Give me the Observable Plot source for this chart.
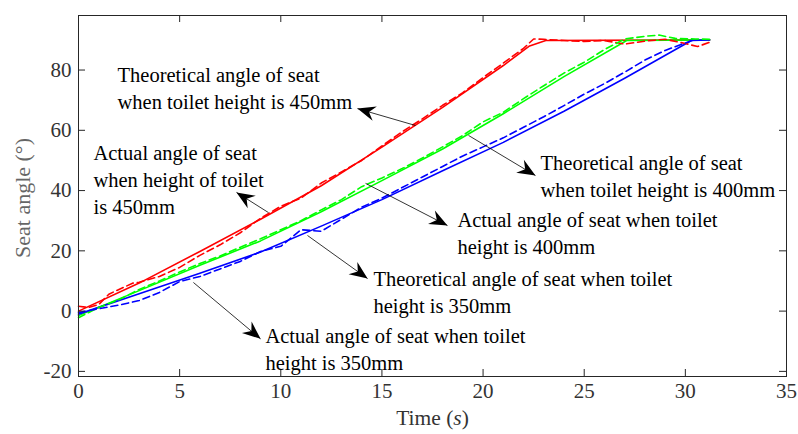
<!DOCTYPE html>
<html>
<head>
<meta charset="utf-8">
<script src="https://cdn.jsdelivr.net/npm/d3@7"></script>
<script src="https://cdn.jsdelivr.net/npm/@observablehq/plot@0.6"></script>
<style>
  html, body { margin: 0; padding: 0; background: white; overflow: hidden; }
</style>
</head>
<body>
<div id="chart"></div>
<script>
// ---- data ----
const xTicks = [0, 5, 10, 15, 20, 25, 30, 35];
const yTicks = [-20, 0, 20, 40, 60, 80];

// theoretical seat angle (solid)
const theoT450 = [0, 3, 6, 9, 12, 15, 18, 21, 22.3, 23.1, 31.2];
const theoA450 = [0, 9.3, 19.8, 30.5, 41.6, 54.4, 67.6, 81.5, 88, 89.8, 90];
const theoT400 = [0, 3, 6, 9, 12, 15, 18, 21, 24, 27.1, 31.2];
const theoA400 = [-1.5, 6.8, 15.2, 23.3, 33.0, 43.3, 53.8, 65.5, 77.8, 89.8, 90];
const theoT350 = [0, 3, 6, 9, 12, 15, 18, 21, 24, 27, 30.3, 31.2];
const theoA350 = [-1, 5.8, 12.6, 19.6, 28.2, 37.0, 46.6, 56.0, 66.3, 77.3, 89.8, 90];

// actual seat angle (dashed)
const actT450 = [0, 0.5, 1, 1.5, 2, 2.7, 3, 4, 5, 6, 7, 8, 9, 10, 11, 12, 13, 14, 15, 16, 17, 18, 19, 20, 21, 22, 22.5, 23, 24, 25, 26, 27, 28, 29, 30, 30.6, 31.2];
const actA450 = [1.6, 1.2, 2.2, 5.6, 7.2, 9.3, 9.6, 11.5, 14.5, 18.5, 22.0, 26.0, 30.8, 34.8, 37.5, 42.5, 46.2, 50.0, 54.8, 59.5, 63.8, 68.3, 72.5, 77.5, 82.3, 87.2, 90.3, 90.2, 89.8, 89.5, 89.8, 88.6, 89.6, 90.2, 88.8, 87.8, 89.2];
const actT400 = [0, 1, 2, 3, 4, 5, 6, 7, 8, 9, 10, 11, 12, 13, 14, 15, 16, 17, 18, 19, 20, 21, 22, 23, 24, 25, 26, 27, 28, 28.7, 29.5, 30.5, 31.2];
const actA400 = [-2.2, 1.2, 3.8, 7.2, 10.0, 13.0, 15.8, 18.3, 21.2, 24.0, 27.0, 30.0, 33.6, 37.0, 41.3, 44.2, 47.3, 50.8, 54.5, 58.3, 62.8, 66.0, 70.5, 74.8, 79.0, 82.6, 86.8, 90.3, 91.2, 91.6, 90.5, 90.3, 90.2];
const actT350 = [0, 1, 2, 3, 4, 5, 6, 7, 8, 9, 10, 11, 12, 13, 14, 15, 16, 17, 18, 19, 20, 21, 22, 23, 24, 25, 26, 27, 28, 29, 30, 30.5];
const actA350 = [-0.5, 0.8, 2.0, 3.5, 6.2, 9.8, 11.5, 14.0, 16.5, 19.8, 21.5, 27.0, 26.5, 30.5, 34.5, 37.5, 41.0, 44.5, 48.0, 51.5, 54.5, 57.5, 61.0, 64.5, 68.2, 72.0, 75.5, 79.3, 83.3, 86.5, 89.0, 90.2];

const seriesColors = {"450": "#ff0000", "400": "#00ff00", "350": "#0000ff"};

// annotation labels (x, y of first line, text)
const noteX = [1.93, 0.74, 22.84, 18.73, 14.58, 9.24];
const noteY = [79.9, 54.0, 50.6, 31.7, 12.2, -6.7];
const noteText = [
  "Theoretical angle of seat\nwhen toilet height is 450mm",
  "Actual angle of seat\nwhen height of toilet\nis 450mm",
  "Theoretical angle of seat\nwhen toilet height is 400mm",
  "Actual angle of seat when toilet\nheight is 400mm",
  "Theoretical angle of seat when toilet\nheight is 350mm",
  "Actual angle of seat when toilet\nheight is 350mm"
];
// annotation arrows (tail -> tip)
const arrowX1 = [16.66, 9.39, 19.28, 14.19, 11.32, 5.68];
const arrowY1 = [61.6, 32.7, 58.3, 42.4, 25.1, 9.5];
const arrowX2 = [13.79, 7.81, 22.59, 18.24, 14.29, 9.0];
const arrowY2 = [67.2, 39.4, 45.0, 28.4, 10.8, -9.2];

// ---- build tables ----
const toRows = (xs, ys, key) => xs.map((x, i) => ({x, y: ys[i], key}));
const theo = [
  ...toRows(theoT450, theoA450, "450"),
  ...toRows(theoT400, theoA400, "400"),
  ...toRows(theoT350, theoA350, "350")
];
const act = [
  ...toRows(actT450, actA450, "450"),
  ...toRows(actT400, actA400, "400"),
  ...toRows(actT350, actA350, "350")
];
const notes = noteText.map((t, i) => ({x: noteX[i], y: noteY[i], t}));
const arrows = arrowX1.map((x1, i) => ({x1, y1: arrowY1[i], x2: arrowX2[i], y2: arrowY2[i]}));

const font = "'Liberation Serif', 'DejaVu Serif', serif";
const W = 798, H = 434, mL = 78, mR = 12, mT = 15, mB = 58;
const fw = W - mL - mR, fh = H - mT - mB, tk = 7;

function arrowHeads(index, scales, values, dims, ctx, next) {
  const g = next(index, scales, values, dims, ctx);
  const {x1, y1, x2, y2} = values;
  const ns = "http://www.w3.org/2000/svg";
  for (const i of index) {
    const a = Math.atan2(y2[i] - y1[i], x2[i] - x1[i]);
    const c = Math.cos(a), s = Math.sin(a);
    const L = 18, Wd = 7.5, N = 12;
    const pts = [[0, 0], [-L, Wd], [-N, 0], [-L, -Wd]]
      .map(([u, v]) => [(x2[i] + u * c - v * s).toFixed(2), (y2[i] + u * s + v * c).toFixed(2)]);
    const p = document.createElementNS(ns, "path");
    p.setAttribute("d", "M" + pts.map(q => q.join(",")).join("L") + "Z");
    p.setAttribute("fill", "black");
    p.setAttribute("stroke", "none");
    g.appendChild(p);
  }
  return g;
}

const chart = Plot.plot({
  width: W, height: H,
  marginLeft: mL, marginRight: mR, marginTop: mT, marginBottom: mB,
  style: {fontFamily: font, fontSize: "20px", color: "#333", background: "white"},
  x: {domain: [0, 35]},
  y: {domain: [-21.7, 98.1]},
  color: {domain: Object.keys(seriesColors), range: Object.values(seriesColors)},
  marks: [
    // lines
    Plot.line(theo, {x: "x", y: "y", z: "key", stroke: "key", strokeWidth: 1.6}),
    Plot.line(act, {x: "x", y: "y", z: "key", stroke: "key", strokeWidth: 1.6, strokeDasharray: "7,4"}),
    // frame and inward ticks
    Plot.frame({stroke: "#262626", strokeWidth: 1}),
    Plot.ruleX(xTicks, {x: d => d, insetTop: fh - tk, stroke: "#262626"}),
    Plot.ruleX(xTicks, {x: d => d, insetBottom: fh - tk, stroke: "#262626"}),
    Plot.ruleY(yTicks, {y: d => d, insetLeft: fw - tk, stroke: "#262626"}),
    Plot.ruleY(yTicks, {y: d => d, insetRight: fw - tk, stroke: "#262626"}),
    // tick labels
    Plot.axisX({ticks: xTicks, tickSize: 0, tickPadding: 7, label: null, fontSize: 21, fill: "#333", tickFormat: d => String(d)}),
    Plot.axisY({ticks: yTicks, tickSize: 0, tickPadding: 7, label: null, fontSize: 21, fill: "#333", tickFormat: d => String(d)}),
    // axis titles
    Plot.text(["Time (s)"], {frameAnchor: "bottom", dy: 48, fill: "#333", fontSize: 21.5}),
    Plot.text(["Seat angle (°)"], {frameAnchor: "left", textAnchor: "middle", dx: -56, dy: 2, rotate: -90, fill: "#666", fontSize: 22}),
    // annotations
    Plot.link(arrows, {x1: "x1", y1: "y1", x2: "x2", y2: "y2", stroke: "black", strokeWidth: 0.8, render: arrowHeads}),
    Plot.text(notes, {x: "x", y: "y", text: "t", textAnchor: "start", lineAnchor: "top", dy: -7.5, lineHeight: 1.32, fontSize: 20.5, fill: "black"})
  ]
});

// italic "s" in the x-axis title
chart.querySelectorAll("text").forEach(t => {
  if (t.textContent === "Time (s)") {
    t.textContent = "";
    const ns = "http://www.w3.org/2000/svg";
    const a = document.createElementNS(ns, "tspan"); a.textContent = "Time (";
    const b = document.createElementNS(ns, "tspan"); b.textContent = "s"; b.setAttribute("font-style", "italic");
    const c = document.createElementNS(ns, "tspan"); c.textContent = ")";
    t.append(a, b, c);
  }
});

document.getElementById("chart").appendChild(chart);
</script>
</body>
</html>
